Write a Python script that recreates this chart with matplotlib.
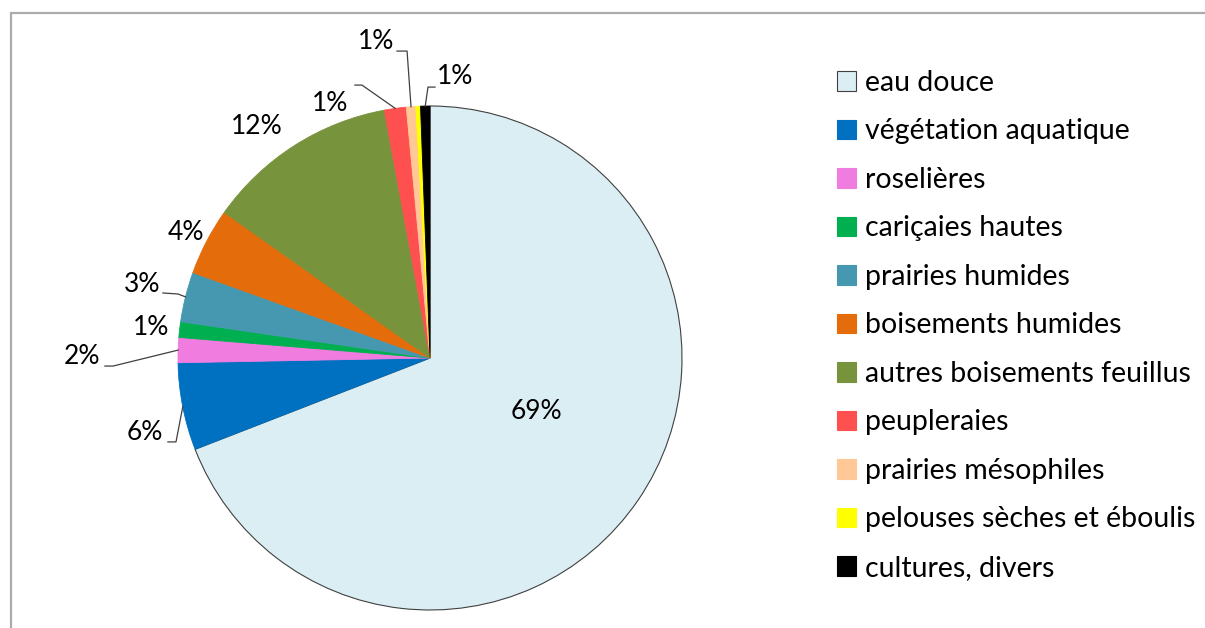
import matplotlib.pyplot as plt
from matplotlib.patches import Rectangle
import numpy as np

categories = ['eau douce', 'végétation aquatique', 'roselières', 'cariçaies hautes',
              'prairies humides', 'boisements humides', 'autres boisements feuillus',
              'peupleraies', 'prairies mésophiles', 'pelouses sèches et éboulis',
              'cultures, divers']
values = [69.1, 5.6, 1.6, 1.0, 3.2, 4.3, 12.3, 1.4, 0.6, 0.3, 0.6]
pct_labels = ['69%', '6%', '2%', '1%', '3%', '4%', '12%', '1%', '1%', '', '1%']
colors = ['#DAEEF3', '#0070C0', '#F07CE0', '#00B050', '#4698B0', '#E46C0A',
          '#77933C', '#FF5050', '#FFC896', '#FFFF00', '#000000']

# label positions (pie radius units) and leader line start / elbow
label_pos = [(0.421, -0.214), (-1.131, -0.294), (-1.381, 0.004), (-1.107, 0.123),
             (-1.143, 0.290), (-0.968, 0.500), (-0.687, 0.917), (-0.397, 1.010),
             (-0.214, 1.254), None, (0.099, 1.119)]
leaders = {1: [(-1.040, -0.333), (-1.008, -0.333)],
           2: [(-1.290, -0.032), (-1.258, -0.032)],
           4: [(-1.060, 0.258), (-1.000, 0.254)],
           7: [(-0.298, 1.083), (-0.270, 1.083)],
           8: [(-0.131, 1.218), (-0.091, 1.218)],
           10: [(0.020, 1.075), (-0.008, 1.075)]}

plt.rcParams['font.family'] = ['Lato', 'DejaVu Sans']

fig = plt.figure(figsize=(12.05, 6.28), dpi=100)
ax = fig.add_axes([0, 0, 1, 1])
R = 252.0

wedges, _ = ax.pie(values, colors=colors, startangle=90, counterclock=False,
                   radius=1.0, wedgeprops=dict(linewidth=0.6))
ax.set_xlim(-430 / R, (1205 - 430) / R)
ax.set_ylim(-(628 - 358) / R, 358 / R)
ax.set_aspect('equal')
ax.axis('off')

for i, w in enumerate(wedges):
    w.set_edgecolor('#404040' if i == 0 else colors[i])
    if i == 0:
        w.set_linewidth(0.8)

for i, w in enumerate(wedges):
    if label_pos[i] is None:
        continue
    ax.text(label_pos[i][0], label_pos[i][1], pct_labels[i], ha='center', va='center',
            fontsize=19, color='#000000')
    if i in leaders:
        mid = np.deg2rad((w.theta1 + w.theta2) / 2)
        pts = leaders[i] + [(np.cos(mid), np.sin(mid))]
        xs, ys = zip(*pts)
        ax.plot(xs, ys, color='#404040', lw=0.9)

# outer frame
fig.patches.append(Rectangle((10.5 / 1205, -0.1), 1.2, (628 - 12.5) / 628 + 0.1,
                             transform=fig.transFigure, fill=False,
                             edgecolor='#ABABAB', lw=1.6))

handles = []
for i, c in enumerate(colors):
    handles.append(Rectangle((0, 0), 1, 1, facecolor=c,
                             edgecolor='#404040' if i == 0 else c, lw=0.8))
fig.legend(handles, categories, loc='upper left', bbox_to_anchor=(837 / 1205, 1 - 70 / 628),
           frameon=False, fontsize=20.5, handlelength=0.66, handleheight=0.66,
           handletextpad=0.32, labelspacing=0.79, borderaxespad=0, borderpad=0)

fig.savefig('out.png', dpi=100)
